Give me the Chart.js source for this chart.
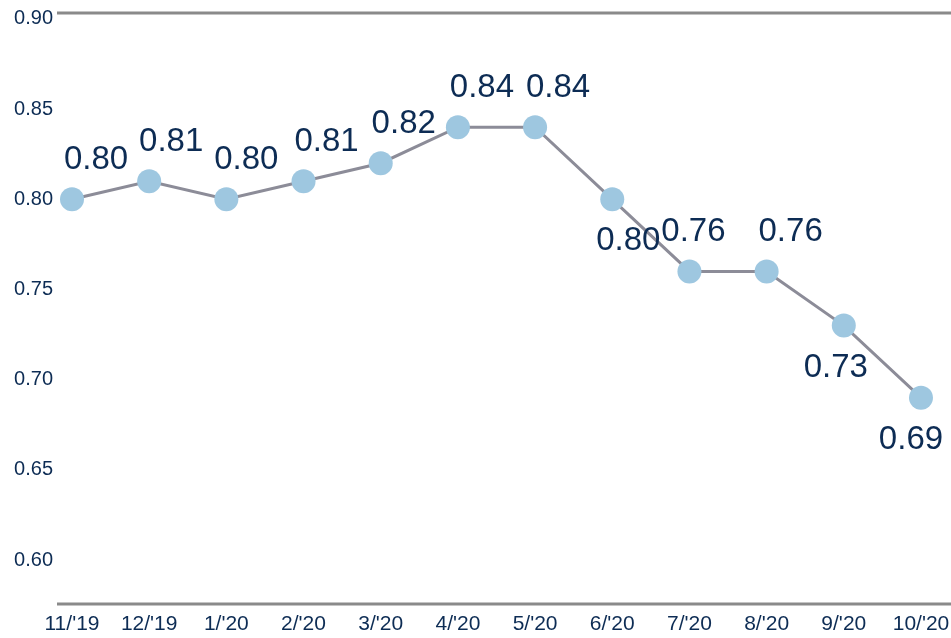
<!DOCTYPE html>
<html>
<head>
<meta charset="utf-8">
<script src="https://cdn.jsdelivr.net/npm/chart.js@4.4.1/dist/chart.umd.min.js"></script>
<style>
html,body{margin:0;padding:0;background:#fff;overflow:hidden;}
#wrap{width:951px;height:638px;position:relative;}
</style>
</head>
<body>
<div id="wrap"><canvas id="c"></canvas></div>
<script>
const categories = ["11/'19","12/'19","1/'20","2/'20","3/'20","4/'20","5/'20","6/'20","7/'20","8/'20","9/'20","10/'20"];
const values = [0.80,0.81,0.80,0.81,0.82,0.84,0.84,0.80,0.76,0.76,0.73,0.69];
const yTicks = [0.60,0.65,0.70,0.75,0.80,0.85,0.90];

// label placement (layout only)
const labelSide = ['above','above','above','above','above','above','above','below','above','above','below','below'];
const labelDx = [24,22,20,23,23,24,23,16,4,24,-8,-10];

const navy = '#0d2c54';
const font = '"Liberation Sans", Arial, Helvetica, sans-serif';

const borderLines = {
  id:'borderLines',
  afterDraw(chart){
    const {ctx, chartArea:a} = chart;
    ctx.save();
    ctx.strokeStyle = '#8a8a8a';
    ctx.lineWidth = 3;
    ctx.beginPath();
    ctx.moveTo(a.left, a.top);
    ctx.lineTo(a.right, a.top);
    ctx.moveTo(a.left, a.bottom);
    ctx.lineTo(a.right, a.bottom);
    ctx.stroke();
    ctx.restore();
  }
};

const dataLabels = {
  id:'dataLabels',
  afterDatasetsDraw(chart){
    const {ctx} = chart;
    const meta = chart.getDatasetMeta(0);
    ctx.save();
    ctx.font = '33px ' + font;
    ctx.fillStyle = navy;
    ctx.textAlign = 'center';
    ctx.textBaseline = 'alphabetic';
    meta.data.forEach((pt, i) => {
      const txt = values[i].toFixed(2);
      const x = pt.x + labelDx[i];
      const y = labelSide[i] === 'above' ? pt.y - 30 : pt.y + 51;
      ctx.fillText(txt, x, y);
    });
    ctx.restore();
  }
};

new Chart(document.getElementById('c'), {
  type:'line',
  data:{
    datasets:[{
      data: values.map((v,i)=>({x:i, y:v})),
      borderColor:'#8c8c98',
      borderWidth:3,
      pointRadius:12,
      pointHoverRadius:12,
      pointBackgroundColor:'#9ec7e0',
      pointBorderWidth:0,
      tension:0,
      clip:false
    }]
  },
  options:{
    responsive:true,
    maintainAspectRatio:false,
    animation:false,
    layout:{autoPadding:false, padding:{top:13,left:0,right:0,bottom:0}},
    plugins:{legend:{display:false},tooltip:{enabled:false}},
    scales:{
      x:{
        type:'linear',
        min:-0.1944,
        max:11.389,
        grid:{display:false,drawTicks:false},
        border:{display:false},
        afterBuildTicks(scale){ scale.ticks = categories.map((c,i)=>({value:i})); },
        afterFit(scale){ scale.height = 34; scale.paddingLeft = 0; scale.paddingRight = 0; },
        ticks:{
          padding:8,
          color:navy,
          font:{family:font,size:21},
          maxRotation:0,
          autoSkip:false,
          callback:(v)=>categories[v]
        }
      },
      y:{
        min:0.5756,
        max:0.9033,
        grid:{display:false,drawTicks:false},
        border:{display:false},
        afterBuildTicks(scale){ scale.ticks = yTicks.map(v=>({value:v})); },
        afterFit(scale){ scale.width = 57; scale.paddingTop = 0; scale.paddingBottom = 0; },
        ticks:{
          padding:4,
          color:navy,
          font:{family:font,size:20},
          callback:(v)=>Number(v).toFixed(2)
        }
      }
    }
  },
  plugins:[borderLines, dataLabels]
});
</script>
</body>
</html>
